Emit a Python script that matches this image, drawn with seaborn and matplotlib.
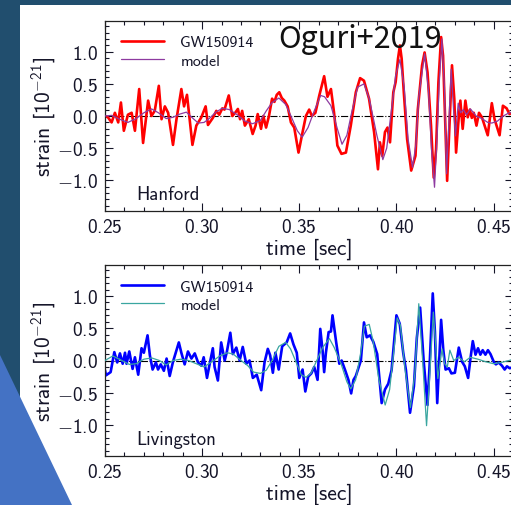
import matplotlib
matplotlib.use("Agg")
import matplotlib.pyplot as plt
import seaborn as sns
import pandas as pd
from matplotlib.patches import Polygon, Rectangle
from matplotlib.ticker import MultipleLocator, FuncFormatter, FixedLocator

# ---- Hanford: whitened strain and best-fit template (units of 1e-21) ----
h_t = [0.2500, 0.2515, 0.2534, 0.2551, 0.2568, 0.2582, 0.2597, 0.2618, 0.2637, 0.2654,
       0.2676, 0.2696, 0.2722, 0.2739, 0.2756, 0.2777, 0.2791, 0.2808, 0.2825, 0.2850,
       0.2868, 0.2893, 0.2907, 0.2922, 0.2950, 0.2970, 0.2996, 0.3018, 0.3030, 0.3055,
       0.3073, 0.3088, 0.3104, 0.3115, 0.3137, 0.3155, 0.3170, 0.3184, 0.3195, 0.3206,
       0.3220, 0.3240, 0.3260, 0.3275, 0.3286, 0.3303, 0.3315, 0.3329, 0.3344, 0.3360,
       0.3372, 0.3384, 0.3397, 0.3410, 0.3423, 0.3440, 0.3457, 0.3474, 0.3496, 0.3517,
       0.3534, 0.3551, 0.3565, 0.3583, 0.3603, 0.3628, 0.3645, 0.3663, 0.3679, 0.3696,
       0.3717, 0.3740, 0.3765, 0.3791, 0.3813, 0.3833, 0.3859, 0.3885, 0.3905, 0.3915,
       0.3927, 0.3941, 0.3954, 0.3967, 0.3984, 0.3996, 0.4008, 0.4018, 0.4027, 0.4038,
       0.4055, 0.4076, 0.4098, 0.4110, 0.4132, 0.4145, 0.4160, 0.4178, 0.4192, 0.4204,
       0.4216, 0.4230, 0.4240, 0.4252, 0.4261, 0.4273, 0.4286, 0.4298, 0.4307, 0.4320,
       0.4329, 0.4341, 0.4355, 0.4367, 0.4378, 0.4388, 0.4398, 0.4412, 0.4425, 0.4440,
       0.4470, 0.4491, 0.4505, 0.4531, 0.4548, 0.4567, 0.4582, 0.4600]
h_data = [0.00, -0.02, -0.10, 0.05, -0.10, 0.21, -0.23, 0.02, 0.05, -0.23,
          0.42, -0.42, 0.24, 0.00, 0.08, 0.47, -0.05, 0.15, 0.05, -0.45,
          -0.05, 0.42, 0.15, 0.33, -0.45, -0.15, -0.02, 0.15, -0.14, -0.03,
          0.08, 0.02, 0.12, 0.10, 0.32, 0.00, 0.05, 0.11, -0.05, 0.08,
          -0.15, -0.05, -0.28, -0.15, 0.03, -0.20, 0.00, -0.18, 0.00, 0.27,
          0.22, 0.33, 0.37, 0.28, 0.24, 0.15, -0.10, -0.18, -0.57, -0.25,
          0.00, 0.10, 0.00, 0.05, 0.32, 0.62, 0.30, 0.42, 0.05, -0.46,
          -0.59, -0.57, -0.15, 0.37, 0.59, 0.55, 0.27, -0.25, -0.83, -0.41,
          -0.62, -0.25, -0.18, -0.41, 0.37, 0.53, 0.89, 1.10, 0.89, 0.37,
          -0.36, -0.85, -0.62, 0.10, 0.79, 0.99, 0.68, -0.15, -0.96, -0.52,
          0.52, 1.23, 0.94, -0.15, -1.01, -0.15, 0.79, 0.26, -0.57, -0.05,
          0.24, -0.20, 0.24, -0.02, 0.10, -0.03, 0.05, -0.15, 0.05, -0.02,
          -0.30, 0.20, -0.05, -0.30, 0.16, 0.12, 0.03, 0.06]

hm_t = [0.2500, 0.2535, 0.2575, 0.2618, 0.2660, 0.2700, 0.2740, 0.2775, 0.2815, 0.2850,
        0.2885, 0.2919, 0.2950, 0.2980, 0.3010, 0.3040, 0.3070, 0.3104, 0.3140, 0.3180,
        0.3220, 0.3260, 0.3300, 0.3330, 0.3360, 0.3395, 0.3430, 0.3457, 0.3490, 0.3515,
        0.3545, 0.3577, 0.3610, 0.3630, 0.3663, 0.3696, 0.3720, 0.3745, 0.3770, 0.3800,
        0.3833, 0.3860, 0.3900, 0.3930, 0.3950, 0.3975, 0.3996, 0.4018, 0.4040, 0.4060,
        0.4083, 0.4100, 0.4115, 0.4145, 0.4165, 0.4180, 0.4196, 0.4208, 0.4220, 0.4234,
        0.4247, 0.4258, 0.4270, 0.4282, 0.4294, 0.4304, 0.4318, 0.4330, 0.4345, 0.4360,
        0.4381, 0.4410, 0.4440, 0.4470, 0.4491, 0.4520, 0.4550, 0.4580, 0.4600]
h_model = [0.00, 0.01, -0.05, -0.10, -0.04, 0.05, 0.11, 0.05, -0.04, -0.02,
           0.03, 0.06, -0.03, -0.11, -0.10, -0.03, 0.06, 0.12, 0.10, 0.02,
           -0.08, -0.12, -0.07, 0.08, 0.21, 0.28, 0.18, 0.00, -0.23, -0.33,
           -0.18, 0.08, 0.32, 0.30, 0.16, -0.20, -0.44, -0.30, 0.06, 0.45,
           0.50, 0.27, -0.31, -0.68, -0.50, 0.11, 0.63, 0.88, 0.45, -0.36,
           -0.80, -0.45, 0.30, 0.97, 0.40, -0.50, -1.11, -0.40, 0.50, 1.20,
           0.45, -0.90, -0.10, 0.73, 0.10, -0.31, 0.20, 0.05, 0.10, 0.02,
           0.11, 0.00, -0.04, -0.10, -0.11, -0.08, 0.00, 0.05, 0.05]

# ---- Livingston: whitened strain and best-fit template (units of 1e-21) ----
l_t = [0.2500, 0.2505, 0.2529, 0.2548, 0.2563, 0.2577, 0.2591, 0.2603, 0.2611, 0.2625,
       0.2642, 0.2654, 0.2671, 0.2688, 0.2700, 0.2719, 0.2731, 0.2745, 0.2762, 0.2773,
       0.2787, 0.2803, 0.2817, 0.2833, 0.2850, 0.2880, 0.2893, 0.2910, 0.2927, 0.2945,
       0.2962, 0.2979, 0.2996, 0.3008, 0.3025, 0.3039, 0.3055, 0.3064, 0.3081, 0.3098,
       0.3116, 0.3127, 0.3145, 0.3158, 0.3176, 0.3193, 0.3209, 0.3227, 0.3244, 0.3261,
       0.3281, 0.3304, 0.3321, 0.3338, 0.3350, 0.3364, 0.3377, 0.3394, 0.3412, 0.3435,
       0.3453, 0.3470, 0.3487, 0.3500, 0.3517, 0.3531, 0.3546, 0.3562, 0.3577, 0.3594,
       0.3608, 0.3620, 0.3628, 0.3637, 0.3651, 0.3663, 0.3671, 0.3690, 0.3706, 0.3718,
       0.3736, 0.3753, 0.3767, 0.3779, 0.3791, 0.3817, 0.3833, 0.3847, 0.3864, 0.3881,
       0.3901, 0.3924, 0.3941, 0.3958, 0.3975, 0.4000, 0.4017, 0.4035, 0.4049, 0.4070,
       0.4090, 0.4105, 0.4122, 0.4140, 0.4160, 0.4172, 0.4187, 0.4198, 0.4210, 0.4220,
       0.4230, 0.4241, 0.4253, 0.4270, 0.4283, 0.4301, 0.4321, 0.4338, 0.4352, 0.4369,
       0.4381, 0.4393, 0.4407, 0.4420, 0.4432, 0.4444, 0.4458, 0.4471, 0.4484, 0.4501,
       0.4512, 0.4526, 0.4543, 0.4557, 0.4569, 0.4583, 0.4603]
l_data = [-0.15, -0.23, -0.18, 0.13, -0.03, 0.11, -0.05, 0.12, -0.05, 0.14,
          -0.13, 0.05, -0.22, 0.19, 0.12, 0.39, 0.08, -0.14, -0.03, -0.14,
          -0.06, -0.16, 0.03, -0.24, -0.02, 0.28, 0.12, -0.06, 0.14, 0.03,
          0.11, -0.03, -0.08, 0.05, -0.27, -0.05, 0.19, -0.10, -0.31, 0.28,
          0.00, 0.13, 0.43, 0.10, 0.20, 0.00, 0.21, -0.05, 0.00, -0.27,
          -0.22, -0.46, -0.03, 0.18, 0.08, -0.19, 0.12, -0.14, 0.22, 0.28,
          0.42, 0.25, 0.12, -0.27, -0.14, -0.48, -0.25, -0.20, -0.10, -0.30,
          0.49, 0.15, -0.18, 0.12, 0.44, 0.45, 0.70, 0.28, -0.05, 0.00,
          -0.15, -0.30, -0.51, -0.30, -0.24, 0.00, 0.59, 0.36, 0.39, 0.29,
          0.10, -0.66, -0.45, -0.36, -0.15, 0.70, 0.57, 0.12, -0.15, -0.81,
          -0.40, 0.35, 0.82, 0.00, -0.69, 0.00, 1.04, 0.45, -0.66, 0.00,
          0.63, 0.17, -0.14, -0.12, -0.20, -0.19, 0.20, -0.02, -0.09, -0.27,
          0.03, 0.30, 0.09, 0.19, 0.09, 0.16, 0.09, 0.16, 0.10, -0.02,
          -0.06, -0.03, -0.08, -0.14, -0.09, -0.12, -0.10]

lm_t = [0.2500, 0.2540, 0.2580, 0.2625, 0.2660, 0.2700, 0.2740, 0.2780, 0.2815, 0.2850,
        0.2890, 0.2930, 0.2970, 0.3010, 0.3050, 0.3090, 0.3130, 0.3160, 0.3200, 0.3235,
        0.3265, 0.3300, 0.3330, 0.3360, 0.3395, 0.3430, 0.3455, 0.3480, 0.3510, 0.3535,
        0.3560, 0.3590, 0.3620, 0.3655, 0.3680, 0.3715, 0.3745, 0.3765, 0.3790, 0.3815,
        0.3835, 0.3860, 0.3880, 0.3910, 0.3942, 0.3965, 0.3985, 0.4004, 0.4020, 0.4045,
        0.4072, 0.4095, 0.4115, 0.4135, 0.4155, 0.4172, 0.4190, 0.4203, 0.4213, 0.4235,
        0.4248, 0.4262, 0.4275, 0.4295, 0.4320, 0.4350, 0.4380, 0.4420, 0.4460, 0.4500,
        0.4540, 0.4580, 0.4605]
l_model = [0.00, 0.07, 0.01, -0.06, -0.05, 0.02, 0.04, 0.00, -0.07, 0.00,
           0.02, 0.00, -0.05, -0.10, -0.02, 0.07, 0.12, 0.10, 0.00, -0.08,
           -0.18, -0.20, -0.15, 0.00, 0.22, 0.28, 0.18, 0.00, -0.22, -0.26,
           -0.20, 0.00, 0.20, 0.34, 0.20, -0.05, -0.33, -0.44, -0.30, 0.10,
           0.53, 0.56, 0.30, -0.30, -0.69, -0.45, 0.10, 0.66, 0.55, -0.15,
           -0.73, -0.20, 0.88, 0.00, -1.01, -0.20, 0.75, 0.20, -0.28, 0.18,
           -0.05, -0.10, 0.16, 0.00, 0.05, -0.02, 0.05, 0.02, -0.02, -0.05,
           -0.03, 0.00, 0.02]

x_ticks = [0.25, 0.30, 0.35, 0.40, 0.45]
y_ticks = [-1.0, -0.5, 0.0, 0.5, 1.0]

panels = [
    dict(name="Hanford", t=h_t, data=h_data, mt=hm_t, model=h_model,
         c_data="#ff0000", c_model="#8e3aa0", top=22, bottom=212),
    dict(name="Livingston", t=l_t, data=l_data, mt=lm_t, model=l_model,
         c_data="#0000ff", c_model="#3aa6a0", top=266, bottom=457),
]

sns.set_style("ticks")
plt.rcParams.update({
    "font.family": ["cmss10", "DejaVu Sans"],
    "mathtext.fontset": "custom",
    "mathtext.rm": "cmss10",
    "mathtext.sf": "cmss10",
    "mathtext.it": "cmss10",
    "mathtext.bf": "cmss10",
    "mathtext.fallback": "cm",
    "axes.unicode_minus": True,
    "text.color": "#141428",
    "axes.labelcolor": "#141428",
    "xtick.color": "#141428",
    "ytick.color": "#141428",
})

W, H = 511, 506
fig = plt.figure(figsize=(W / 100, H / 100), dpi=100)
fig.patch.set_facecolor("#214e6e")

# slide canvas and corner decoration
fig.add_artist(Rectangle((20 / W, 0), 1 - 20 / W, 1 - 6 / H, transform=fig.transFigure,
                         facecolor="white", edgecolor="none", zorder=-10))
fig.add_artist(Polygon([[0, 1 - 356 / H], [72 / W, 0], [0, 0]], closed=True,
                       transform=fig.transFigure, facecolor="#4472c4",
                       edgecolor="none", zorder=-9))


def math_label(fmt):
    return FuncFormatter(lambda v, _: "$" + format(v, fmt) + "$")


for p in panels:
    ax = fig.add_axes([105 / W, 1 - p["bottom"] / H, 408 / W, (p["bottom"] - p["top"]) / H])
    ax.set_facecolor("white")
    ax.axhline(0, color="black", ls="-.", lw=0.8, zorder=1)
    sns.lineplot(x=p["t"], y=p["data"], ax=ax, color=p["c_data"], linewidth=1.9,
                 estimator=None, sort=False, label="GW150914", zorder=2)
    sns.lineplot(x=p["mt"], y=p["model"], ax=ax, color=p["c_model"], linewidth=0.9,
                 estimator=None, sort=False, label="model", zorder=3)
    ax.set_xlim(0.25, 0.46)
    ax.set_ylim(-1.48, 1.48)
    ax.xaxis.set_major_locator(FixedLocator(x_ticks))
    ax.yaxis.set_major_locator(FixedLocator(y_ticks))
    ax.xaxis.set_minor_locator(MultipleLocator(0.01))
    ax.yaxis.set_minor_locator(MultipleLocator(0.1))
    ax.xaxis.set_major_formatter(math_label(".2f"))
    ax.yaxis.set_major_formatter(math_label(".1f"))
    ax.tick_params(which="both", direction="in", top=True, right=True, width=0.8,
                   labelsize=14, pad=5)
    ax.tick_params(which="major", length=6)
    ax.tick_params(which="minor", length=3)
    for s in ax.spines.values():
        s.set_linewidth(0.9)
        s.set_color("#222222")
    ax.set_xlabel("time [sec]", fontsize=15.5, labelpad=1)
    ax.set_ylabel(r"strain [$10^{-21}$]", fontsize=15.5)
    ax.yaxis.set_label_coords(-0.115, 0.5)
    ax.legend(loc="upper left", bbox_to_anchor=(0.04, 0.925), frameon=False, fontsize=11.5,
              handlelength=2.7, handletextpad=1.0, labelspacing=0.25,
              borderaxespad=0, borderpad=0)
    ax.text(0.076, 0.063, p["name"], transform=ax.transAxes, fontsize=13.5, va="baseline")

fig.text(278 / W, 1 - 48 / H, "Oguri+2019", fontsize=22, color="#111111",
         family=["Noto Sans CJK SC", "DejaVu Sans"], fontweight="light", va="baseline")

fig.savefig("out.png", dpi=100, facecolor=fig.get_facecolor())
